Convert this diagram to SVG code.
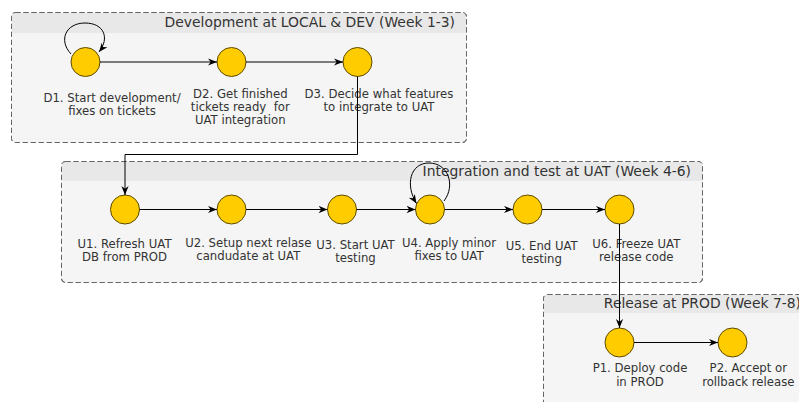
<svg xmlns="http://www.w3.org/2000/svg" width="799" height="402" viewBox="0 0 799 402">
<defs>
<marker id="arr" viewBox="0 0 10 10" markerWidth="9" markerHeight="9" markerUnits="userSpaceOnUse" refX="10" refY="5" orient="auto">
<path d="M0,1 L10,5 L0,9 L3,5 z" fill="#000"/>
</marker>
</defs>
<style>
.body{fill:#f5f5f5;stroke:#666;stroke-width:1;stroke-dasharray:5 3}
.head{fill:#e8e8e8}
.title{font-family:"DejaVu Sans",sans-serif;font-size:13.9px;fill:#333;text-anchor:end}
.node{fill:#ffcc00;stroke:#5c4a00;stroke-width:1}
.lbl{font-family:"DejaVu Sans",sans-serif;font-size:11.7px;fill:#333;text-anchor:middle;white-space:pre}
.edge{fill:none;stroke:#000;stroke-width:1;marker-end:url(#arr)}
</style>
<g id="lane-dev">
<rect class="body" x="11.5" y="12.5" width="455" height="130" rx="4"/>
<rect class="head" x="12" y="13" width="454" height="20"/>
<rect x="11.5" y="12.5" width="455" height="130" rx="4" fill="none" stroke="#666" stroke-dasharray="5 3"/>
<text class="title" x="455" y="27">Development at LOCAL &amp; DEV (Week 1-3)</text>
</g>
<g id="lane-uat">
<rect class="body" x="61.5" y="161.5" width="641" height="121" rx="4"/>
<rect class="head" x="62" y="162" width="640" height="19"/>
<rect x="61.5" y="161.5" width="641" height="121" rx="4" fill="none" stroke="#666" stroke-dasharray="5 3"/>
<text class="title" x="691" y="175.5">Integration and test at UAT (Week 4-6)</text>
</g>
<g id="lane-prod">
<rect class="body" x="543.5" y="294.5" width="268" height="120" rx="4"/>
<rect class="head" x="544" y="295" width="267" height="18"/>
<rect x="543.5" y="294.5" width="268" height="120" rx="4" fill="none" stroke="#666" stroke-dasharray="5 3"/>
<text class="title" x="801" y="308">Release at PROD (Week 7-8)</text>
</g>
<g id="D1">
<circle class="node" cx="85.5" cy="62" r="14.5"/>
<text class="lbl" x="112" y="102.3">D1. Start development/</text>
<text class="lbl" x="112" y="114.8">fixes on tickets</text>
</g>
<g id="D2">
<circle class="node" cx="231.5" cy="62" r="14.5"/>
<text class="lbl" x="240.3" y="97.7">D2. Get finished</text>
<text class="lbl" x="240.3" y="110.7">tickets ready  for</text>
<text class="lbl" x="240.3" y="123.5">UAT integration</text>
</g>
<g id="D3">
<circle class="node" cx="357.5" cy="62" r="14.5"/>
<text class="lbl" x="379" y="97.7">D3. Decide what features</text>
<text class="lbl" x="379" y="110.7">to integrate to UAT</text>
</g>
<g id="U1">
<circle class="node" cx="125" cy="209.5" r="14.5"/>
<text class="lbl" x="124.5" y="248.3">U1. Refresh UAT</text>
<text class="lbl" x="124.5" y="261.3">DB from PROD</text>
</g>
<g id="U2">
<circle class="node" cx="231.5" cy="209.5" r="14.5"/>
<text class="lbl" x="248.3" y="246.7">U2. Setup next relase</text>
<text class="lbl" x="248.3" y="259.7">candudate at UAT</text>
</g>
<g id="U3">
<circle class="node" cx="342" cy="209.5" r="14.5"/>
<text class="lbl" x="355.5" y="249.3">U3. Start UAT</text>
<text class="lbl" x="355.5" y="262.3">testing</text>
</g>
<g id="U4">
<circle class="node" cx="430" cy="209.5" r="14.5"/>
<text class="lbl" x="449" y="247.3">U4. Apply minor</text>
<text class="lbl" x="449" y="260.3">fixes to UAT</text>
</g>
<g id="U5">
<circle class="node" cx="527.5" cy="209.5" r="14.5"/>
<text class="lbl" x="541.7" y="250">U5. End UAT</text>
<text class="lbl" x="541.7" y="263">testing</text>
</g>
<g id="U6">
<circle class="node" cx="619.5" cy="209.5" r="14.5"/>
<text class="lbl" x="636.3" y="248">U6. Freeze UAT</text>
<text class="lbl" x="636.3" y="261">release code</text>
</g>
<g id="P1">
<circle class="node" cx="619.5" cy="342.5" r="14.5"/>
<text class="lbl" x="640" y="372.3">P1. Deploy code</text>
<text class="lbl" x="640" y="385.7">in PROD</text>
</g>
<g id="P2">
<circle class="node" cx="732.5" cy="342.5" r="14.5"/>
<text class="lbl" x="748.3" y="372.3">P2. Accept or</text>
<text class="lbl" x="748.3" y="385.7">rollback release</text>
</g>
<g id="connectors">
<path class="edge" d="M71,54 C58,40 66,23 85,23 C104,23 110,38 99,52"/>
<path class="edge" d="M100,62 H217"/>
<path class="edge" d="M246,62 H343"/>
<path class="edge" d="M357.5,76.5 V154.5 H125 V195"/>
<path class="edge" d="M139.5,209.5 H217"/>
<path class="edge" d="M246,209.5 H327.5"/>
<path class="edge" d="M356.5,209.5 H415.5"/>
<path class="edge" d="M444,201 C456,185 448,163 429,163 C410,163 405,185 416.5,203.5"/>
<path class="edge" d="M444.5,209.5 H513"/>
<path class="edge" d="M542,209.5 H605"/>
<path class="edge" d="M619.5,224 V328"/>
<path class="edge" d="M634,342.5 H718"/>
</g>
</svg>
